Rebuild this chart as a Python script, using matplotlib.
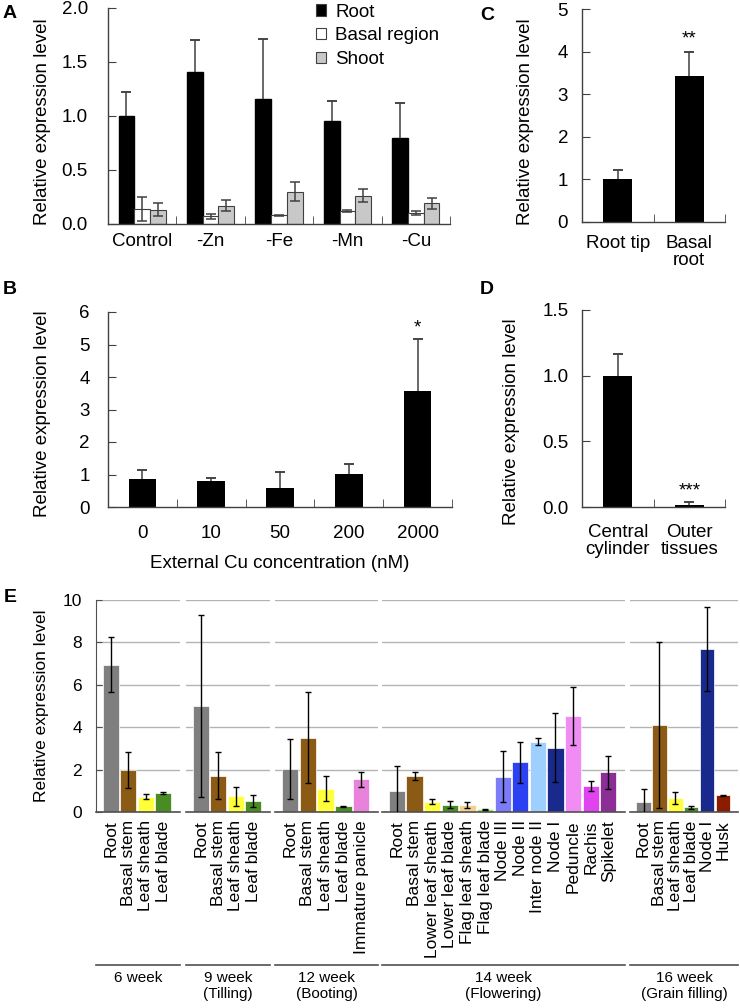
import matplotlib
matplotlib.use('Agg')
import matplotlib.pyplot as plt
from matplotlib.patches import Rectangle
from matplotlib.ticker import FormatStrFormatter

plt.rcParams['font.family'] = ['Liberation Sans', 'DejaVu Sans']

# ---- panel A ----
a_groups = ['Control', '-Zn', '-Fe', '-Mn', '-Cu']
a_root = [1.00, 1.41, 1.16, 0.95, 0.80]
a_root_err = [0.22, 0.29, 0.55, 0.19, 0.32]
a_basal = [0.14, 0.07, 0.08, 0.12, 0.10]
a_basal_err = [0.11, 0.02, 0.005, 0.01, 0.02]
a_shoot = [0.13, 0.17, 0.30, 0.26, 0.19]
a_shoot_err = [0.06, 0.05, 0.09, 0.06, 0.05]

# ---- panel B ----
b_conc = ['0', '10', '50', '200', '2000']
b_vals = [0.87, 0.80, 0.60, 1.02, 3.56]
b_err = [0.26, 0.09, 0.49, 0.29, 1.60]

# ---- panel C ----
c_labels = ['Root tip', 'Basal\nroot']
c_vals = [1.00, 3.42]
c_err = [0.21, 0.57]

# ---- panel D ----
d_labels = ['Central\ncylinder', 'Outer\ntissues']
d_vals = [1.00, 0.018]
d_err = [0.165, 0.017]

# ---- panel E ----
e_stages = ['6 week', '9 week\n(Tilling)', '12 week\n(Booting)', '14 week\n(Flowering)', '16 week\n(Grain filling)']
e_tissues = [
    ['Root', 'Basal stem', 'Leaf sheath', 'Leaf blade'],
    ['Root', 'Basal stem', 'Leaf sheath', 'Leaf blade'],
    ['Root', 'Basal stem', 'Leaf sheath', 'Leaf blade', 'Immature panicle'],
    ['Root', 'Basal stem', 'Lower leaf sheath', 'Lower leaf blade', 'Flag leaf sheath',
     'Flag leaf blade', 'Node III', 'Node II', 'Inter node II', 'Node I', 'Peduncle',
     'Rachis', 'Spikelet'],
    ['Root', 'Basal stem', 'Leaf sheath', 'Leaf blade', 'Node I', 'Husk'],
]
e_vals = [
    [6.95, 1.97, 0.72, 0.90],
    [5.00, 1.72, 0.75, 0.52],
    [2.03, 3.50, 1.10, 0.27, 1.55],
    [1.00, 1.71, 0.49, 0.35, 0.33, 0.13, 1.66, 2.34, 3.31, 3.03, 4.52, 1.24, 1.87],
    [0.49, 4.10, 0.66, 0.22, 7.69, 0.78],
]
e_err = [
    [1.30, 0.85, 0.12, 0.05],
    [4.30, 1.12, 0.45, 0.27],
    [1.43, 2.15, 0.60, 0.03, 0.35],
    [1.15, 0.20, 0.12, 0.18, 0.15, 0.02, 1.20, 0.97, 0.17, 1.63, 1.38, 0.24, 0.77],
    [0.58, 3.90, 0.28, 0.06, 2.00, 0.02],
]

tissue_colors = {
    'Root': '#7f7f7f', 'Basal stem': '#8b5a14', 'Leaf sheath': '#ffff3a',
    'Leaf blade': '#4a8c24', 'Immature panicle': '#e882da',
    'Lower leaf sheath': '#ffff3a', 'Lower leaf blade': '#4a8c24',
    'Flag leaf sheath': '#f3d08e', 'Flag leaf blade': '#84f048',
    'Node III': '#7c7cf8', 'Node II': '#2c42f2', 'Inter node II': '#9ed0ff',
    'Node I': '#1a2a8c', 'Peduncle': '#f08cf4', 'Rachis': '#e044f0',
    'Spikelet': '#8c2e96', 'Husk': '#8b1c00',
}

W, H = 740, 1008
fig = plt.figure(figsize=(W / 100, H / 100), dpi=100)

def px_axes(x0, y0, x1, y1):
    return fig.add_axes([x0 / W, 1 - y1 / H, (x1 - x0) / W, (y1 - y0) / H])

spine_c = '#404040'
fs = 13.5

def style_axes(ax, ypad, xpad):
    for s in ['top', 'right']:
        ax.spines[s].set_visible(False)
    for s in ['left', 'bottom']:
        ax.spines[s].set_color(spine_c)
        ax.spines[s].set_linewidth(1.0)
    ax.tick_params(axis='y', direction='in', length=6, color=spine_c, labelsize=fs, pad=ypad)
    ax.tick_params(axis='x', which='major', length=0, labelsize=fs, pad=xpad)
    ax.tick_params(axis='x', which='minor', direction='in', length=6, color=spine_c)

ekw = dict(ecolor=spine_c, elinewidth=1.1, capsize=3.5, capthick=1.1)

def upper_err(ax, xs, vals, errs):
    # black bars: only the upper whisker and its cap are visible
    tops = [v + e for v, e in zip(vals, errs)]
    ax.vlines(xs, vals, tops, color=spine_c, linewidth=1.1)
    ax.errorbar(xs, tops, yerr=[0] * len(xs), fmt='none', **ekw)

# A
ax = px_axes(108, 8, 450, 224)
xs = list(range(len(a_groups)))
bw = 0.23
ax.bar([x - bw for x in xs], a_root, bw, color='black', edgecolor='black')
upper_err(ax, [x - bw for x in xs], a_root, a_root_err)
ax.bar(xs, a_basal, bw, color='white', edgecolor=spine_c, linewidth=0.8,
       yerr=a_basal_err, error_kw=ekw)
ax.bar([x + bw for x in xs], a_shoot, bw, color='#c8c8c8', edgecolor=spine_c, linewidth=0.8,
       yerr=a_shoot_err, error_kw=ekw)
ax.set_xlim(-0.5, 4.5)
ax.set_ylim(0, 2.0)
ax.set_yticks([0, 0.5, 1.0, 1.5, 2.0])
ax.yaxis.set_major_formatter(FormatStrFormatter('%.1f'))
ax.set_xticks(xs)
ax.set_xticklabels(a_groups)
ax.set_xticks([x + 0.5 for x in xs], minor=True)
style_axes(ax, 14.5, 6.5)
handles = [Rectangle((0, 0), 1, 1, facecolor=c, edgecolor=spine_c, linewidth=0.8)
           for c in ['black', 'white', '#c8c8c8']]
fig.legend(handles, ['Root', 'Basal region', 'Shoot'], loc='upper left',
           bbox_to_anchor=(312 / W, 1 - 0 / H), frameon=False, fontsize=fs,
           handlelength=0.55, handleheight=0.55, handletextpad=0.5,
           labelspacing=0.35, borderaxespad=0, borderpad=0.2)
fig.text(43 / W, 1 - 122 / H, 'Relative expression level', rotation=90,
         ha='center', va='center', fontsize=fs)

# B
ax = px_axes(108, 312, 452, 507)
xs = list(range(len(b_conc)))
ax.bar(xs, b_vals, 0.4, color='black')
upper_err(ax, xs, b_vals, b_err)
ax.text(4, b_vals[4] + b_err[4] + 0.1, '*', ha='center', va='bottom', fontsize=fs)
ax.set_xlim(-0.5, 4.5)
ax.set_ylim(0, 6)
ax.set_yticks(range(7))
ax.set_xticks(xs)
ax.set_xticklabels(b_conc)
ax.set_xticks([x + 0.5 for x in xs], minor=True)
style_axes(ax, 13, 13)
fig.text(43 / W, 1 - 414 / H, 'Relative expression level', rotation=90,
         ha='center', va='center', fontsize=fs)
fig.text(280 / W, 1 - 563 / H, 'External Cu concentration (nM)', ha='center', va='center',
         fontsize=fs)

# C
ax = px_axes(582, 9, 725, 222)
ax.bar([0, 1], c_vals, 0.4, color='black')
upper_err(ax, [0, 1], c_vals, c_err)
ax.text(1, c_vals[1] + c_err[1] + 0.1, '**', ha='center', va='bottom', fontsize=fs)
ax.set_xlim(-0.5, 1.5)
ax.set_ylim(0, 5)
ax.set_yticks(range(6))
ax.set_xticks([0, 1])
ax.set_xticklabels(c_labels, linespacing=1.05)
ax.set_xticks([0.5, 1.5], minor=True)
style_axes(ax, 10, 9)
fig.text(526 / W, 1 - 122 / H, 'Relative expression level', rotation=90,
         ha='center', va='center', fontsize=fs)

# D
ax = px_axes(582, 310, 725, 507)
ax.bar([0, 1], d_vals, 0.4, color='black')
upper_err(ax, [0, 1], d_vals, d_err)
ax.text(1, d_vals[1] + d_err[1] + 0.02, '***', ha='center', va='bottom', fontsize=fs)
ax.set_xlim(-0.5, 1.5)
ax.set_ylim(0, 1.5)
ax.set_yticks([0, 0.5, 1.0, 1.5])
ax.yaxis.set_major_formatter(FormatStrFormatter('%.1f'))
ax.set_xticks([0, 1])
ax.set_xticklabels(d_labels, linespacing=1.05)
ax.set_xticks([0.5, 1.5], minor=True)
style_axes(ax, 9.5, 12)
fig.text(512 / W, 1 - 422 / H, 'Relative expression level', rotation=90,
         ha='center', va='center', fontsize=fs)

# E
fe = 12.5
e_spans = [(96, 180), (186, 270), (275, 378), (382, 625), (630, 738)]
for gi, (x0, x1) in enumerate(e_spans):
    ax = px_axes(x0, 600, x1, 812)
    names = e_tissues[gi]
    xs = list(range(len(names)))
    ax.bar(xs, e_vals[gi], 0.92, color=[tissue_colors[n] for n in names],
           edgecolor='white', linewidth=0.5, zorder=2,
           yerr=e_err[gi], error_kw=dict(ecolor='black', elinewidth=1.0, capsize=2.5,
                                          capthick=1.0, zorder=3))
    ax.set_xlim(-0.85, len(names) - 0.05)
    ax.set_ylim(0, 10)
    ax.set_yticks(range(0, 11, 2))
    ax.yaxis.grid(True, color='#b4b4b4', linewidth=1.0, zorder=0)
    ax.set_axisbelow(True)
    for s in ['top', 'right']:
        ax.spines[s].set_visible(False)
    ax.spines['bottom'].set_color('#505050')
    ax.spines['bottom'].set_linewidth(1.2)
    ax.set_xticks(xs)
    ax.set_xticklabels(names, rotation=90, fontsize=fe, va='top', ha='center')
    ax.tick_params(axis='x', length=0, pad=6)
    if gi == 0:
        ax.spines['left'].set_color('#505050')
        ax.tick_params(axis='y', direction='in', length=4, color='#505050',
                       labelsize=fe, pad=10)
    else:
        ax.spines['left'].set_visible(False)
        ax.tick_params(axis='y', length=0, labelleft=False)
    # stage line and label
    fig.add_artist(plt.Line2D([x0 / W, x1 / W], [1 - 965 / H, 1 - 965 / H],
                              color='#505050', linewidth=1.2))
    fig.text((x0 + x1) / 2 / W, 1 - 971 / H, e_stages[gi], ha='center', va='top',
             fontsize=11, linespacing=1.15)
fig.text(42 / W, 1 - 706 / H, 'Relative expression level', rotation=90,
         ha='center', va='center', fontsize=fe)

# panel letters
for letter, x, y in [('A', 10, 14), ('B', 10, 290), ('C', 487, 15), ('D', 487, 290), ('E', 10, 597)]:
    fig.text(x / W, 1 - y / H, letter, ha='center', va='center', fontsize=14, fontweight='bold')

fig.savefig('out.png', dpi=100)
